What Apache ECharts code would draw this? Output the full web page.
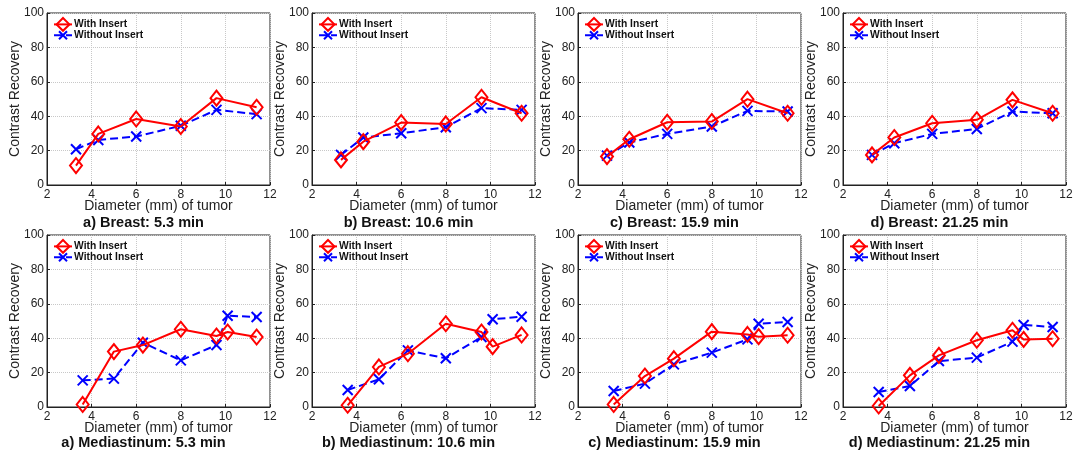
<!DOCTYPE html>
<html>
<head>
<meta charset="utf-8">
<script src="https://cdn.jsdelivr.net/npm/echarts@6/dist/echarts.min.js"></script>
<style>
html,body{margin:0;padding:0;background:#fff;}
#chart{width:1082px;height:458px;}
</style>
</head>
<body>
<div id="chart"></div>
<script>
// ---- Data ----
const xBreast = [3.3, 4.3, 6, 8, 9.6, 11.4];
const xMediastinum = [3.6, 5, 6.3, 8, 9.6, 10.1, 11.4];

const breastA_with    = [11.3, 29.7, 38.4, 34.0, 50.5, 45.2];
const breastA_without = [20.8, 26.2, 28.2, 34.4, 43.7, 41.2];
const breastB_with    = [14.6, 25.2, 36.3, 35.5, 51.0, 41.7];
const breastB_without = [17.5, 27.6, 30.1, 33.6, 44.7, 43.7];
const breastC_with    = [16.5, 26.6, 36.5, 36.9, 49.9, 41.7];
const breastC_without = [17.1, 24.7, 29.7, 34.0, 43.1, 42.7];
const breastD_with    = [17.5, 27.6, 35.9, 37.9, 49.5, 41.7];
const breastD_without = [17.5, 24.3, 29.7, 32.6, 42.7, 41.7];

const medA_with    = [1.5, 32.2, 36.0, 45.2, 41.3, 43.6, 40.7];
const medA_without = [15.5, 16.5, 37.4, 27.1, 36.0, 53.1, 52.3];
const medB_with    = [1.0, 23.3, 31.0, 48.4, 43.6, 35.1, 41.9];
const medB_without = [9.9, 16.1, 32.9, 28.3, 40.7, 51.0, 52.5];
const medC_with    = [1.5, 18.0, 28.1, 43.8, 42.2, 40.9, 41.7];
const medC_without = [9.3, 13.6, 24.8, 31.6, 39.3, 48.4, 49.4];
const medD_with    = [0.6, 18.4, 30.0, 38.8, 44.6, 39.3, 39.7];
const medD_without = [8.7, 12.2, 26.7, 28.7, 38.0, 47.7, 46.5];

const panelTitles = [
  'a) Breast: 5.3 min', 'b) Breast: 10.6 min', 'c) Breast: 15.9 min', 'd) Breast: 21.25 min',
  'a) Mediastinum: 5.3 min', 'b) Mediastinum: 10.6 min', 'c) Mediastinum: 15.9 min', 'd) Mediastinum: 21.25 min'
];
const seriesNames = ['With Insert', 'Without Insert'];
const xTicks = [2, 4, 6, 8, 10, 12];
const yTicks = [0, 20, 40, 60, 80, 100];
const xAxisName = 'Diameter (mm) of tumor';
const yAxisName = 'Contrast Recovery';

const panels = [
  [xBreast, breastA_with, breastA_without],
  [xBreast, breastB_with, breastB_without],
  [xBreast, breastC_with, breastC_without],
  [xBreast, breastD_with, breastD_without],
  [xMediastinum, medA_with, medA_without],
  [xMediastinum, medB_with, medB_without],
  [xMediastinum, medC_with, medC_without],
  [xMediastinum, medD_with, medD_without]
];

// ---- Layout ----
const gridLefts = [47, 312, 578, 843];
const gridTops = [13, 235];
const gridW = 223, gridH = 172;
const titleTops = [215, 435];
const titleShift = -15;
const FONT = '"Liberation Sans", Arial, Helvetica, sans-serif';

const DIAMOND = 'path://M6,0L12,8L6,16L0,8Z';
const XMARK = 'path://M-3,-3M0,0L10,10M0,10L10,0M13,13';

const grid = [], xAxis = [], yAxis = [], series = [], title = [], legend = [];

panels.forEach((p, i) => {
  const row = Math.floor(i / 4), col = i % 4;
  const left = gridLefts[col], top = gridTops[row];
  grid.push({left: left, top: top, width: gridW, height: gridH, show: true,
    borderColor: '#222', borderWidth: 1, backgroundColor: '#fff'});
  xAxis.push({
    type: 'value', gridIndex: i, min: xTicks[0], max: xTicks[xTicks.length - 1], interval: 2,
    name: xAxisName, nameLocation: 'middle', nameGap: 14, nameMoveOverlap: false,
    nameTextStyle: {fontFamily: FONT, fontSize: 14, color: '#222'},
    axisLine: {show: true, lineStyle: {color: '#222', width: 1}},
    axisTick: {show: true, inside: true, length: 3, lineStyle: {color: '#222'}},
    axisLabel: {fontFamily: FONT, fontSize: 12, color: '#222', margin: 4},
    splitLine: {show: true, lineStyle: {color: '#c8c8c8', type: 'dotted', width: 1}}
  });
  yAxis.push({
    type: 'value', gridIndex: i, min: yTicks[0], max: yTicks[yTicks.length - 1], interval: 20,
    name: yAxisName, nameLocation: 'middle', nameGap: 25, nameMoveOverlap: false,
    nameTextStyle: {fontFamily: FONT, fontSize: 14, color: '#222'},
    axisLine: {show: true, lineStyle: {color: '#222', width: 1}},
    axisTick: {show: true, inside: true, length: 3, lineStyle: {color: '#222'}},
    axisLabel: {fontFamily: FONT, fontSize: 12, color: '#222', margin: 3},
    splitLine: {show: true, lineStyle: {color: '#c8c8c8', type: 'dotted', width: 1}}
  });
  const xs = p[0];
  series.push({
    name: seriesNames[0], type: 'line', xAxisIndex: i, yAxisIndex: i,
    data: xs.map((x, k) => [x, p[1][k]]),
    symbol: DIAMOND, symbolSize: [12, 15], z: 3,
    lineStyle: {color: '#ff0000', width: 2, type: 'solid'},
    itemStyle: {color: 'rgba(255,255,255,0)', borderColor: '#ff0000', borderWidth: 2},
    animation: false
  });
  series.push({
    name: seriesNames[1], type: 'line', xAxisIndex: i, yAxisIndex: i,
    data: xs.map((x, k) => [x, p[2][k]]),
    symbol: XMARK, symbolSize: 16, z: 2,
    lineStyle: {color: '#0000ff', width: 2, type: [8, 4]},
    itemStyle: {color: '#0000ff', borderColor: '#0000ff', borderWidth: 2},
    animation: false
  });
  title.push({
    text: panelTitles[i], left: left + gridW / 2 + titleShift, top: titleTops[row], textAlign: 'center', padding: 0,
    textStyle: {fontFamily: FONT, fontSize: 14.5, fontWeight: 'bold', color: '#111'}
  });
  legend.push({
    data: seriesNames, left: left + 6, top: top + 4, orient: 'vertical',
    itemWidth: 18, itemHeight: 16, itemGap: -4, padding: 0, selectedMode: false,
    textStyle: {fontFamily: FONT, fontSize: 10.3, fontWeight: 'bold', color: '#111', padding: [0, 0, 0, -3]}
  });
});

const chart = echarts.init(document.getElementById('chart'), null, {renderer: 'canvas'});
chart.setOption({animation: false, backgroundColor: '#fff', grid, xAxis, yAxis, series, title, legend});
</script>
</body>
</html>
